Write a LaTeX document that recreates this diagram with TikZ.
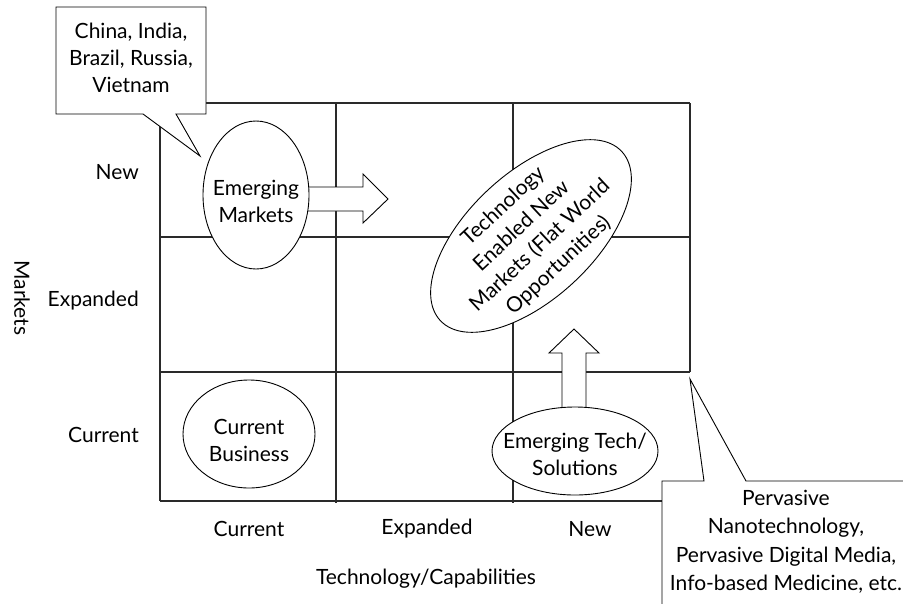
\documentclass[tikz,border=0pt]{standalone}
\usepackage{fontspec}
\setmainfont{Lato}
\usepackage{tikz}
\usetikzlibrary{shapes.geometric}
\definecolor{gridcol}{HTML}{2A2A2A}
\tikzset{
  txt/.style={font=\fontsize{21}{27}\selectfont, align=center, inner sep=0pt},
  oval/.style={ellipse, draw, fill=white, line width=0.9pt, inner sep=0pt},
  blockarrow/.style={draw, fill=white, line width=0.9pt, line join=miter},
  callout/.style={draw, fill=white, line width=0.9pt, line join=miter}
}

\begin{document}
\begin{tikzpicture}[x=1pt, y=-1pt]
\useasboundingbox (0,0) rectangle (903,603);
\clip (0,0) rectangle (903,603);
\begin{scope}[gridcol, line width=1.3pt]
  \draw (160,103) -- (690,103);
  \draw (160,237) -- (690,237);
  \draw (160,372) -- (690,372);
  \draw (160,501) -- (662,501);
  \draw (160,103) -- (160,501);
  \draw (336,103) -- (336,503);
  \draw (513,103) -- (513,503);
  \draw (690,103) -- (690,372);
\end{scope}
\node[txt, anchor=east] (rnew) at (139,172) {New};
\node[txt, anchor=east] (rexp) at (139,301) {Expanded};
\node[txt, anchor=east] (rcur) at (139,435) {Current};
\node[txt, rotate=-90] (ylab) at (22,298) {Markets};
\node[txt] (ccur) at (249,529) {Current};
\node[txt] (cexp) at (427,529) {Expanded};
\node[txt] (cnew) at (590,529) {New};
\node[txt] (xlab) at (426,579) {Technology/Capabilities};
\draw[blockarrow] (300,187) -- (363,187) -- (363,174) -- (388,199)
  -- (363,223) -- (363,211) -- (300,211) -- cycle;
\draw[blockarrow] (562,420) -- (562,353) -- (549,353) -- (574,329)
  -- (599,353) -- (586,353) -- (586,420) -- cycle;
\node[oval, minimum width=106pt, minimum height=148pt] (em) at (256,195) {};
\node[txt] (emt) at ([yshift=-6pt]em.center) {Emerging\\Markets};
\node[oval, minimum width=132pt, minimum height=108pt] (cb) at (249,434) {};
\node[txt] (cbt) at ([yshift=-6pt]cb.center) {Current\\Business};
\node[oval, minimum width=166pt, minimum height=88pt] (et) at (575,451) {};
\node[txt] (ett) at ([yshift=-3pt]et.center) {Emerging Tech/\\Solutions};
\node[oval, rotate=43, minimum width=248pt, minimum height=126pt] (te) at (531,236) {};
\node[txt, rotate=43] (tet) at (te) {Technology\\Enabled New\\Markets (Flat World\\Opportunities)};
\draw[callout] (56,7) -- (206,7) -- (206,114) -- (176,114) -- (200,156)
  -- (143,114) -- (56,114) -- cycle;
\node[txt] (bric) at (131,58) {China, India,\\Brazil, Russia,\\Vietnam};
\fill[white] (662,610) -- (662,481) -- (704,481) -- (690,379) -- (746,481)
  -- (910,481) -- (910,610) -- cycle;
\draw[callout, fill=none] (662,610) -- (662,481) -- (704,481) -- (690,379)
  -- (746,481) -- (910,481);
\node[txt, font=\fontsize{21}{28.5}\selectfont] (perv) at (786,542)
  {Pervasive\\Nanotechnology,\\Pervasive Digital Media,\\Info-based Medicine, etc.};
\end{tikzpicture}
\end{document}
